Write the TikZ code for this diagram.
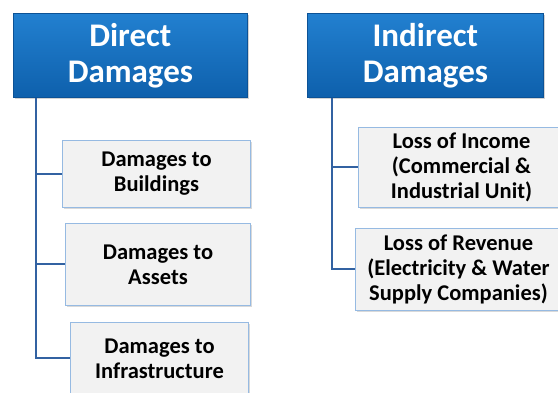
\documentclass[tikz,border=0pt]{standalone}
\usepackage{fontspec}
\setmainfont{Carlito}
\usepackage{tikz}
\usetikzlibrary{positioning,calc,shadows}
\definecolor{hdtop}{RGB}{34,128,208}
\definecolor{hdbot}{RGB}{14,96,172}
\definecolor{hdline}{RGB}{12,82,150}
\definecolor{boxfill}{RGB}{242,242,242}
\definecolor{boxline}{RGB}{150,186,226}
\definecolor{linkblue}{RGB}{50,98,162}

\begin{document}
\begin{tikzpicture}[
  x=1pt, y=-1pt,
  every node/.style={font=\bfseries, align=center, anchor=north west, inner sep=0pt},
  head/.style={draw=hdline, line width=0.8pt, top color=hdtop, bottom color=hdbot,
               text=white, font=\bfseries\fontsize{33}{36}\selectfont,
               drop shadow={shadow xshift=1.5pt, shadow yshift=-2pt, opacity=0.35},
               minimum height=84pt},
  item/.style={draw=boxline, line width=1pt, fill=boxfill,
               font=\bfseries\fontsize{22.5}{25}\selectfont,
               drop shadow={shadow xshift=1pt, shadow yshift=-2pt, opacity=0.3}},
  link/.style={draw=linkblue, line width=2pt}
]
\useasboundingbox (0,0) rectangle (558,393);

% direct damages
\node[head, minimum width=234pt] (dd) at (13,13) {Direct\\Damages};
\node[item, minimum width=188pt, minimum height=67pt] (bldg) at (62,140) {Damages to\\Buildings};
\node[item, minimum width=185pt, minimum height=82pt] (asst) at (65,223) {Damages to\\Assets};
\node[item, minimum width=178pt, minimum height=72pt] (infr) at (70,322) {Damages to\\Infrastructure};

% indirect damages
\node[head, minimum width=236pt] (id) at (307,13) {Indirect\\Damages};
\node[item, minimum width=206pt, minimum height=80pt] (inc) at (358,127) {Loss of Income\\(Commercial \&\\Industrial Unit)};
\node[item, minimum width=206pt, minimum height=82pt] (rev) at (355,228) {Loss of Revenue\\(Electricity \& Water\\Supply Companies)};

\coordinate (dtrunk) at ($(dd.south west)+(23pt,0)$);
\coordinate (itrunk) at ($(id.south west)+(25pt,0)$);

\draw[link] (dtrunk) |- (bldg.west);
\draw[link] (dtrunk) |- (asst.west);
\draw[link] (dtrunk) |- (infr.west);
\draw[link] (itrunk) |- (inc.west);
\draw[link] (itrunk) |- (rev.west);

\end{tikzpicture}
\end{document}
